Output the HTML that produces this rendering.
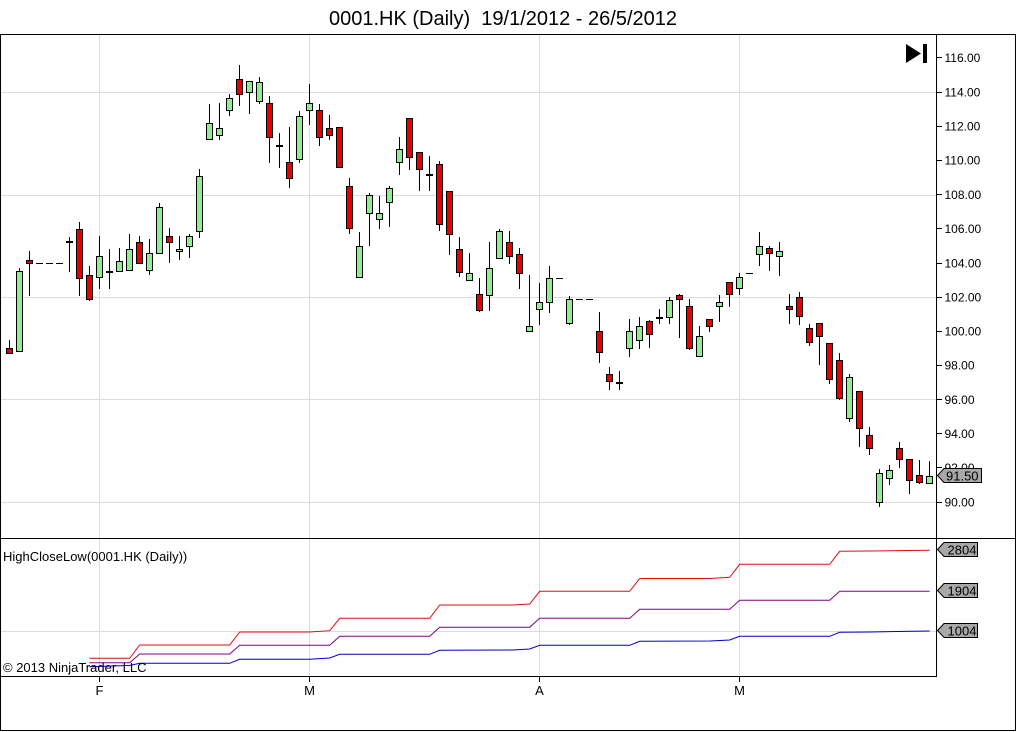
<!DOCTYPE html>
<html><head><meta charset="utf-8"><style>
html,body{margin:0;padding:0;background:#fff;}
svg{display:block;font-family:"Liberation Sans",Arial,sans-serif;}
</style></head><body>
<svg width="1016" height="732" viewBox="0 0 1016 732" xmlns="http://www.w3.org/2000/svg">
<rect x="0" y="0" width="1016" height="732" fill="#fff"/>
<text x="329" y="25" font-size="20" fill="#000">0001.HK (Daily)&#160;&#160;19/1/2012 - 26/5/2012</text>

<!-- gridlines -->
<g stroke="#dcdcdc" stroke-width="1" shape-rendering="crispEdges">
<path d="M1 92.5H936M1 195.5H936M1 297.5H936M1 399.5H936M1 502.5H936"/>
<path d="M99.5 35V538M309.5 35V538M539.5 35V538M739.5 35V538"/>
<path d="M99.5 539V676M309.5 539V676M539.5 539V676M739.5 539V676"/>
<path d="M1 631.5H936"/>
</g>

<!-- frame -->
<g stroke="#000" stroke-width="1" fill="none" shape-rendering="crispEdges">
<path d="M0 34.5H1016M0.5 34V731M1015.5 34V731M0 730.5H1016M0 538.5H1016M0 676.5H937M936.5 34V677"/>
<path d="M936 57.5h6M936 92.5h6M936 126.5h6M936 160.5h6M936 194.5h6M936 228.5h6M936 263.5h6M936 297.5h6M936 331.5h6M936 365.5h6M936 399.5h6M936 433.5h6M936 467.5h6M936 502.5h6"/>
<path d="M99.5 677v5M309.5 677v5M539.5 677v5M739.5 677v5"/>
</g>

<!-- price labels -->
<g font-size="12" fill="#000">
<text x="944.5" y="62">116.00</text>
<text x="944.5" y="96.5">114.00</text>
<text x="944.5" y="130.5">112.00</text>
<text x="944.5" y="164.5">110.00</text>
<text x="944.5" y="199">108.00</text>
<text x="944.5" y="233">106.00</text>
<text x="944.5" y="267.5">104.00</text>
<text x="944.5" y="301.5">102.00</text>
<text x="944.5" y="335.5">100.00</text>
<text x="944.5" y="369.5">98.00</text>
<text x="944.5" y="404">96.00</text>
<text x="944.5" y="438">94.00</text>
<text x="944.5" y="472">92.00</text>
<text x="944.5" y="506.5">90.00</text>
</g>

<!-- skip to end icon -->
<polygon points="906,44 921,53.5 906,63" fill="#000"/>
<rect x="923" y="44" width="4" height="19" fill="#000"/>

<!-- wicks -->
<path fill="none" stroke="#000" stroke-width="1" shape-rendering="crispEdges" d="M9.5 340V354M19.5 268V352M29.5 251V296M69.5 237V272M79.5 222V296M89.5 266V301M99.5 236V289M109.5 249V289M119.5 248V272M129.5 234V271M139.5 236V264M149.5 239V275M159.5 203V254M169.5 228V263M179.5 236V260M189.5 234V258M199.5 169V238M209.5 104V140M219.5 103V140M229.5 94V116M239.5 65V106M249.5 81V114M259.5 77V104M269.5 96V163M279.5 133V168M289.5 127V188M299.5 111V163M309.5 84V125M319.5 104V146M329.5 115V140M339.5 127V168M349.5 178V234M359.5 232V278M369.5 193V246M379.5 196V229M389.5 186V227M399.5 137V175M409.5 118V170M419.5 152V191M429.5 156V191M439.5 161V231M449.5 191V255M459.5 237V277M469.5 253V281M479.5 278V312M489.5 242V311M499.5 229V259M509.5 231V264M519.5 248V289M529.5 275V332M539.5 283V325M549.5 266V313M569.5 296V325M599.5 312V363M609.5 367V390M619.5 371V390M629.5 319V357M639.5 317V349M649.5 320V348M659.5 309V324M669.5 297V324M679.5 294V338M689.5 299V350M699.5 326V357M709.5 319V332M719.5 295V322M729.5 282V307M739.5 273V295M759.5 232V266M769.5 246V271M779.5 242V276M789.5 294V324M799.5 292V325M809.5 324V346M819.5 323V365M829.5 343V384M839.5 353V400M849.5 374V422M859.5 391V447M869.5 427V455M879.5 469V507M889.5 465V485M899.5 442V468M909.5 459V494M919.5 460V484M929.5 461V484"/>

<!-- flat bars -->
<path fill="none" stroke="#000" stroke-width="1" shape-rendering="crispEdges" d="M36 263.5h7M46 263.5h7M56 263.5h7M556 278.5h7M576 299.5h7M586 299.5h7M746 273.5h7"/>

<!-- doji -->
<path fill="none" stroke="#000" stroke-width="2" shape-rendering="crispEdges" d="M66 242h7M106 272h7M276 146h7M426 175h7M616 383h7M656 318h7"/>

<!-- green bodies -->
<path fill="#90ee90" stroke="#000" stroke-width="1" shape-rendering="crispEdges" d="M16.5 271.5h6v80h-6zM96.5 256.5h6v21h-6zM116.5 261.5h6v10h-6zM126.5 249.5h6v21h-6zM146.5 253.5h6v17h-6zM156.5 207.5h6v46h-6zM176.5 249.5h6v2h-6zM186.5 236.5h6v10h-6zM196.5 176.5h6v55h-6zM206.5 123.5h6v16h-6zM216.5 128.5h6v7h-6zM226.5 98.5h6v12h-6zM246.5 81.5h6v11h-6zM256.5 82.5h6v19h-6zM296.5 116.5h6v43h-6zM306.5 103.5h6v7h-6zM356.5 246.5h6v31h-6zM366.5 195.5h6v18h-6zM376.5 213.5h6v6h-6zM386.5 188.5h6v14h-6zM396.5 149.5h6v13h-6zM466.5 273.5h6v7h-6zM486.5 268.5h6v27h-6zM496.5 231.5h6v27h-6zM526.5 326.5h6v5h-6zM536.5 302.5h6v7h-6zM546.5 278.5h6v24h-6zM566.5 299.5h6v24h-6zM626.5 331.5h6v17h-6zM636.5 326.5h6v14h-6zM666.5 300.5h6v17h-6zM696.5 336.5h6v20h-6zM716.5 302.5h6v4h-6zM736.5 277.5h6v11h-6zM756.5 246.5h6v8h-6zM776.5 251.5h6v5h-6zM846.5 377.5h6v41h-6zM876.5 473.5h6v29h-6zM886.5 470.5h6v8h-6zM926.5 476.5h6v7h-6z"/>

<!-- red bodies -->
<path fill="#e60000" stroke="#000" stroke-width="1" shape-rendering="crispEdges" d="M6.5 348.5h6v5h-6zM26.5 260.5h6v3h-6zM76.5 229.5h6v49h-6zM86.5 275.5h6v24h-6zM136.5 242.5h6v21h-6zM166.5 236.5h6v6h-6zM236.5 79.5h6v15h-6zM266.5 103.5h6v34h-6zM286.5 162.5h6v16h-6zM316.5 110.5h6v27h-6zM326.5 128.5h6v7h-6zM336.5 127.5h6v40h-6zM346.5 186.5h6v42h-6zM406.5 118.5h6v39h-6zM416.5 152.5h6v17h-6zM436.5 164.5h6v60h-6zM446.5 191.5h6v43h-6zM456.5 249.5h6v23h-6zM476.5 294.5h6v16h-6zM506.5 242.5h6v14h-6zM516.5 254.5h6v19h-6zM596.5 331.5h6v21h-6zM606.5 374.5h6v7h-6zM646.5 321.5h6v13h-6zM676.5 295.5h6v4h-6zM686.5 306.5h6v42h-6zM706.5 319.5h6v7h-6zM726.5 282.5h6v12h-6zM766.5 248.5h6v5h-6zM786.5 306.5h6v3h-6zM796.5 297.5h6v19h-6zM806.5 328.5h6v14h-6zM816.5 323.5h6v13h-6zM826.5 343.5h6v36h-6zM836.5 360.5h6v38h-6zM856.5 391.5h6v37h-6zM866.5 435.5h6v13h-6zM896.5 448.5h6v11h-6zM906.5 459.5h6v21h-6zM916.5 475.5h6v7h-6z"/>

<!-- price marker -->
<path d="M937.5 475.5L944 468.5H981.5V482.5H944Z" fill="#a8a8a8" stroke="#000" stroke-width="1"/>
<text x="946" y="480.5" font-size="13" fill="#000">91.50</text>

<!-- indicator panel -->
<text x="3" y="561" font-size="13" fill="#000">HighCloseLow(0001.HK (Daily))</text>
<g fill="none" stroke-width="1">
<polyline stroke="#dd1010" points="89.3,658.3 129.7,658.3 139.7,645 229.7,645 239.7,632 309.7,632 329.7,630.7 339.7,618.3 429.7,618.3 439.7,605 513,605 529.7,604 539.7,591.3 629.7,591.3 639.7,578.5 710,578.5 729.7,577.3 739.7,564.3 829.7,564.3 839.7,551.3 870,551 929.7,550.3"/>
<polyline stroke="#800080" points="89.3,662.7 129.7,662.7 139.7,654 229.7,654 239.7,645.3 329.7,645.3 339.7,636.3 429.7,636.3 439.7,627.3 529.7,627.3 539.7,618.3 629.7,618.3 639.7,609.3 729.7,609.3 739.7,600.3 829.7,600.3 839.7,591.3 929.7,591.3"/>
<polyline stroke="#0000cc" points="89.3,666.7 129.7,665.5 139.7,663.3 229.7,663.3 239.7,659.3 309.7,659.3 329.7,658 339.7,654.3 429.7,654.3 439.7,650.3 513,650 529.7,649 539.7,645.3 629.7,645.3 639.7,641.3 710,641 729.7,640 739.7,636.3 829.7,636.3 839.7,632.3 870,632 929.7,631"/>
</g>
<text x="3" y="672" font-size="13" fill="#000">© 2013 NinjaTrader, LLC</text>

<!-- indicator markers -->
<g fill="#a8a8a8" stroke="#000" stroke-width="1">
<path d="M937.5 549.5L944 542.5H977.5V556.5H944Z"/>
<path d="M937.5 590.5L944 583.5H977.5V597.5H944Z"/>
<path d="M937.5 630.5L944 623.5H977.5V637.5H944Z"/>
</g>
<g font-size="13" fill="#000">
<text x="947.5" y="554.5">2804</text>
<text x="947.5" y="595.5">1904</text>
<text x="947.5" y="635.5">1004</text>
</g>

<!-- x axis labels -->
<g font-size="13" fill="#000" text-anchor="middle">
<text x="99.5" y="695">F</text>
<text x="309.5" y="695">M</text>
<text x="539.5" y="695">A</text>
<text x="739.5" y="695">M</text>
</g>
</svg>
</body></html>
